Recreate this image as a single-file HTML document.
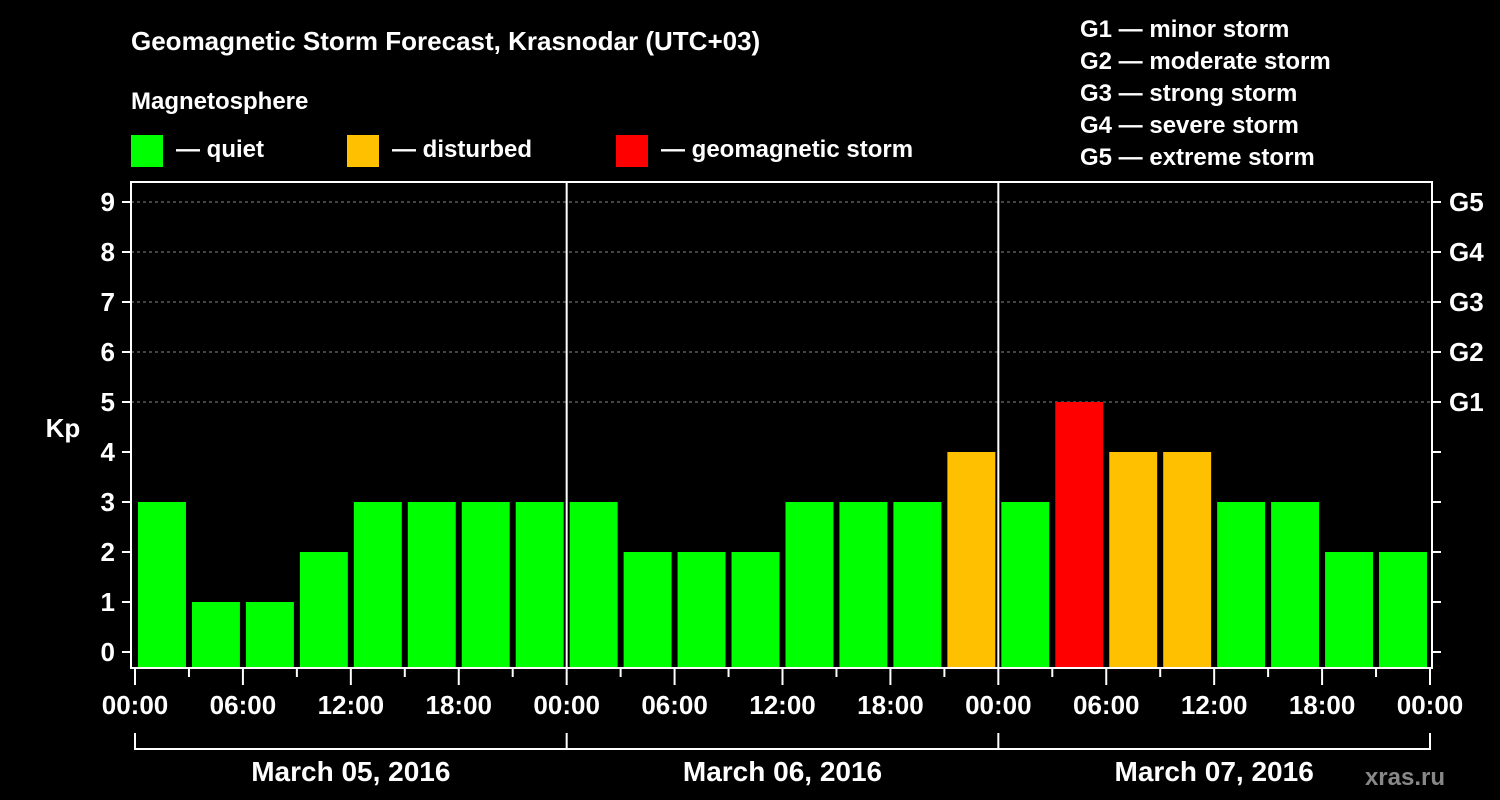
<!DOCTYPE html>
<html><head><meta charset="utf-8"><style>
body{margin:0;background:#000;}
svg{display:block;font-family:"Liberation Sans",Arial,sans-serif;font-weight:bold;}
</style></head><body>
<svg id="c" width="1500" height="800" xmlns="http://www.w3.org/2000/svg">
<rect width="1500" height="800" fill="#000"/>
<text x="131" y="50" fill="#fff" font-size="26">Geomagnetic Storm Forecast, Krasnodar (UTC+03)</text>
<text x="131" y="109" fill="#fff" font-size="24">Magnetosphere</text>
<g><rect x="131" y="135" width="32" height="32" fill="#00ff00"/><text x="176" y="157" fill="#fff" font-size="24">— quiet</text></g>
<g><rect x="347" y="135" width="32" height="32" fill="#ffc000"/><text x="392" y="157" fill="#fff" font-size="24">— disturbed</text></g>
<g><rect x="616" y="135" width="32" height="32" fill="#ff0000"/><text x="661" y="157" fill="#fff" font-size="24">— geomagnetic storm</text></g>
<g fill="#fff" font-size="24">
<text x="1080" y="37">G1 — minor storm</text>
<text x="1080" y="69">G2 — moderate storm</text>
<text x="1080" y="101">G3 — strong storm</text>
<text x="1080" y="133">G4 — severe storm</text>
<text x="1080" y="165">G5 — extreme storm</text>
</g>
<text x="63" y="437" fill="#fff" font-size="26" text-anchor="middle">Kp</text>
<text x="1445" y="785" fill="#888" font-size="24" text-anchor="end">xras.ru</text>
<g id="plot"></g>
</svg>
<script>
const kpValues=[3,1,1,2,3,3,3,3, 3,2,2,2,3,3,3,4, 3,5,4,4,3,3,2,2];
const yTicks=[0,1,2,3,4,5,6,7,8,9];
const gLabels=["G1","G2","G3","G4","G5"];
const gLevels=[5,6,7,8,9];
const xTickLabels=["00:00","06:00","12:00","18:00","00:00","06:00","12:00","18:00","00:00","06:00","12:00","18:00","00:00"];
const dayLabels=["March 05, 2016","March 06, 2016","March 07, 2016"];

const NS="http://www.w3.org/2000/svg";
const g=document.getElementById('plot');
const X0=135,X1=1430,PT=182,PB=668;
const n=kpValues.length;
const slot=(X1-X0)/n;
const xs=i=>X0+i*slot;
const ys=v=>652-v*50;
function mk(t,a,p){const e=document.createElementNS(NS,t);for(const k in a)e.setAttribute(k,a[k]);(p||g).appendChild(e);return e;}
// grid
gLevels.forEach(v=>{const e=mk('line',{x1:131,x2:1432,y1:ys(v),y2:ys(v),stroke:'#888','stroke-dasharray':'3,3','stroke-width':1});

});
// bars
kpValues.forEach((v,i)=>{const c=v>=5?'#ff0000':v>=4?'#ffc000':'#00ff00';
const r=mk('rect',{x:xs(i)+3,y:ys(v),width:slot-6,height:PB-ys(v),fill:c});

});
// day separators
for(let d=1;d<3;d++){const e=mk('line',{x1:xs(d*8),x2:xs(d*8),y1:PT,y2:PB,stroke:'#fff','stroke-width':2});

}
// frame
const f=mk('rect',{x:131,y:PT,width:1301,height:PB-PT,fill:'none',stroke:'#fff','stroke-width':2});


// y ticks
yTicks.forEach(v=>{mk('line',{x1:122,x2:131,y1:ys(v),y2:ys(v),stroke:'#fff','stroke-width':2});
mk('line',{x1:1432,x2:1441,y1:ys(v),y2:ys(v),stroke:'#fff','stroke-width':2});
const t=mk('text',{x:115,y:ys(v)+9,fill:'#fff','font-size':26,'text-anchor':'end'});t.textContent=v;

});
gLabels.forEach((l,i)=>{const t=mk('text',{x:1449,y:ys(gLevels[i])+9,fill:'#fff','font-size':26});t.textContent=l;

});
// x ticks
for(let i=0;i<=n;i++){const x=xs(i);mk('line',{x1:x,x2:x,y1:PB,y2:i%2?677:685,stroke:'#fff','stroke-width':2});}
xTickLabels.forEach((l,i)=>{const t=mk('text',{x:xs(i*2),y:714,fill:'#fff','font-size':26,'text-anchor':'middle'});t.textContent=l;

});
// day brackets
mk('line',{x1:X0,x2:X1,y1:749,y2:749,stroke:'#fff','stroke-width':2});
for(let d=0;d<=3;d++)mk('line',{x1:xs(d*8),x2:xs(d*8),y1:733,y2:750,stroke:'#fff','stroke-width':2});
dayLabels.forEach((l,d)=>{const t=mk('text',{x:(xs(d*8)+xs(d*8+8))/2,y:781,fill:'#fff','font-size':28,'text-anchor':'middle'});t.textContent=l;

});
</script>
</body></html>
